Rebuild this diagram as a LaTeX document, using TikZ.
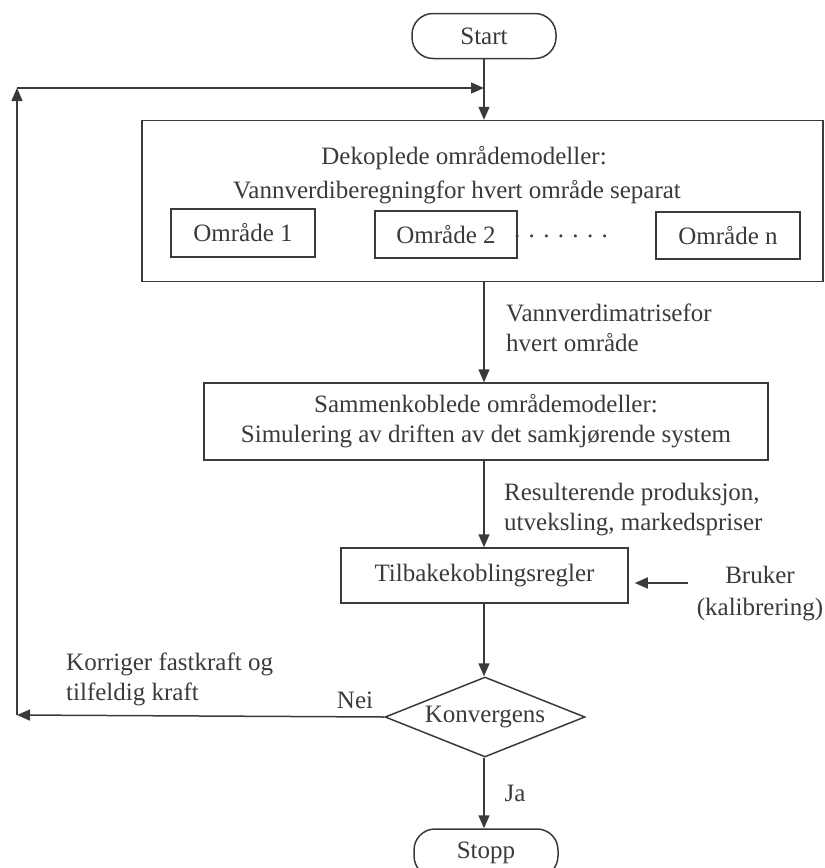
\documentclass[tikz,border=0pt]{standalone}
\usepackage{fontspec}
\setmainfont{Liberation Serif}
\usetikzlibrary{arrows.meta,shapes.geometric}
\definecolor{ink}{HTML}{3A3A3A}
\begin{document}
\begin{tikzpicture}[x=1pt,y=-1pt,
  every node/.style={text=ink,font=\fontsize{25}{30}\selectfont},
  line/.style={draw=ink,line width=1.5pt},
  arrow/.style={line,-{Triangle[length=13pt,width=11pt]}},
  box/.style={line,rectangle,inner sep=0pt},
  terminal/.style={line,rectangle,rounded corners=21pt,inner sep=0pt,
    minimum width=144pt,minimum height=45pt},
  decision/.style={line,diamond,aspect=2.5,inner sep=0pt,
    minimum width=200pt,minimum height=80pt},
  lbl/.style={inner sep=0pt,align=left}]
\useasboundingbox (0,0) rectangle (825,868);

% terminals
\node[terminal] (start) at (484,36) {Start};
\node[terminal,minimum height=48pt] (stop) at (486,853) {Stopp};

% decoupled area models
\node[box,minimum width=681pt,minimum height=161pt] (big) at (482.5,201) {};
\node[lbl] (bigtitle) at (464,158) {Dekoplede områdemodeller:};
\node[lbl] (bigsub) at (457,192) {Vannverdiberegningfor hvert område separat};
\node[box,minimum width=144pt,minimum height=48pt] (o1) at (243,233) {Område 1};
\node[box,minimum width=142pt,minimum height=47pt] (o2) at (446,234.5) {Område 2};
\node[lbl] (dots) at (561,236) {. . . . . . .};
\node[box,minimum width=144pt,minimum height=47pt] (on) at (728,235.5) {Område n};

% coupled area models
\node[box,minimum width=564pt,minimum height=77pt,align=center] (sam) at (486,421.5)
  {Sammenkoblede områdemodeller:\\Simulering av driften av det samkjørende system};

% feedback rules
\node[box,minimum width=287pt,minimum height=55pt] (til) at (484.5,575.5) {Tilbakekoblingsregler};
\node[lbl,align=center] (bruker) at (760,594) {Bruker\\[2pt](kalibrering)};

% convergence test
\node[decision] (conv) at (485,717) {\raisebox{-6pt}{Konvergens}};

% edge labels
\node[lbl,anchor=north west] (lab1) at (506,304) {Vannverdimatrisefor\\hvert område};
\node[lbl,anchor=north west] (lab2) at (504,483) {Resulterende produksjon,\\utveksling, markedspriser};
\node[lbl,anchor=north west] (lab3) at (66,653) {Korriger fastkraft og\\tilfeldig kraft};
\node[lbl] (nei) at (355,700) {Nei};
\node[lbl] (ja) at (515,793) {Ja};

% helper points for the feedback loop and user input
\coordinate (j)  at (484,88);
\coordinate (cl) at (17,715);
\coordinate (ct) at (17,88);
\coordinate (bk) at (688,583);

% main flow
\draw[arrow] (start.south) -- (start.south |- big.north);
\draw[arrow] (big.south -| start.south) -- (start.south |- sam.north);
\draw[arrow] (sam.south -| start.south) -- (start.south |- til.north);
\draw[arrow] (til.south -| start.south) -- (start.south |- conv.north);
\draw[arrow] (conv.south -| start.south) -- (start.south |- stop.north);

% user calibration input
\draw[arrow,shorten >=6pt] (bk) -- (bk -| til.east);

% feedback loop
\draw[arrow] (conv.west) -- (cl);
\draw[arrow] (cl) -- (ct);
\draw[arrow] (ct) -- (j);
\end{tikzpicture}
\end{document}
